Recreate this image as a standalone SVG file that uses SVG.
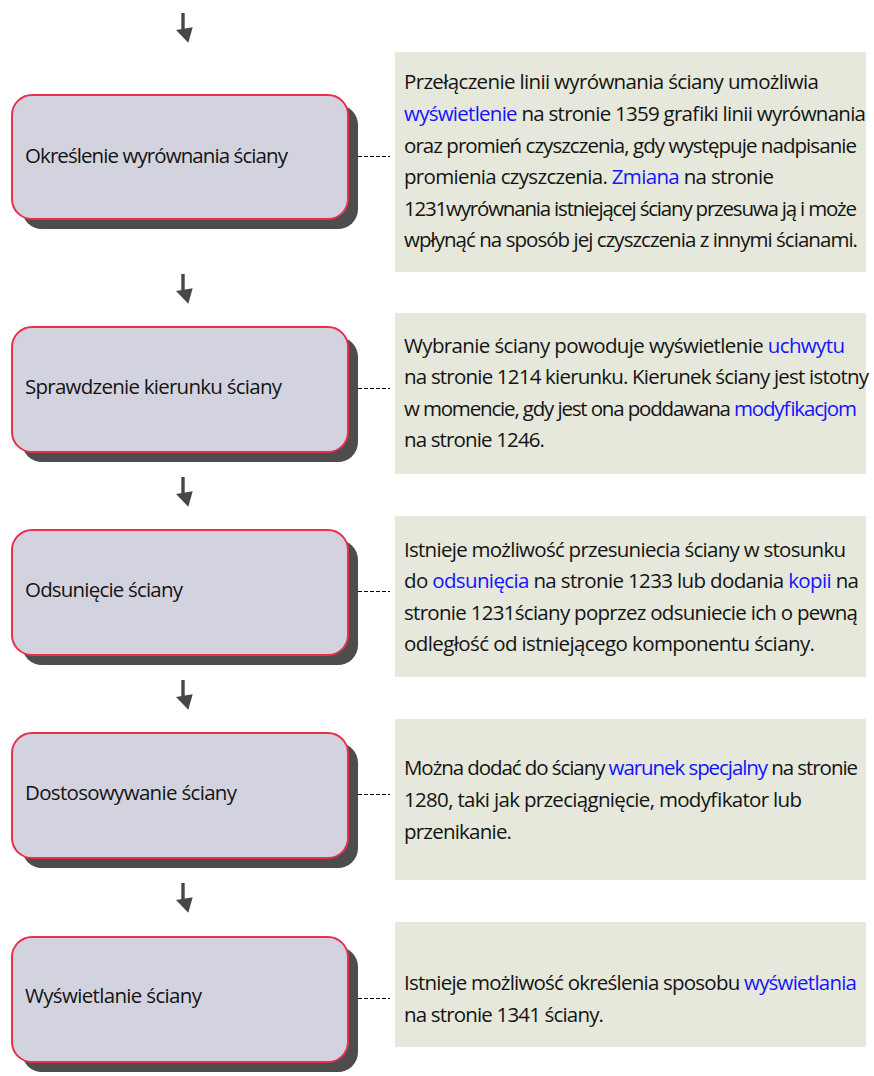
<svg xmlns="http://www.w3.org/2000/svg" xmlns:xlink="http://www.w3.org/1999/xlink" width="874" height="1076" viewBox="0 0 874 1076">
  <style>
    .shadow { fill: #4d4d4d; }
    .box { fill: #d3d3df; stroke: #e8304f; stroke-width: 2; }
    .panel { fill: #e5e8da; }
    .label { font-family: "Open Sans", "Noto Sans", sans-serif; font-size: 20.5px; fill: #141414; }
    .note { font-family: "Open Sans", "Noto Sans", sans-serif; font-size: 20.5px; fill: #141414; }
    .link { fill: #1414ff; }
    .dash { stroke: #000; stroke-width: 1.2; stroke-dasharray: 4 2; fill: none; }
    .arrow { fill: #474747; }
  </style>
  <defs>
    <g id="down-arrow" class="arrow">
      <rect x="-1.7" y="0" width="3.4" height="18"/>
      <polygon points="-7,17 9.7,14.3 5.3,29.7"/>
    </g>
  </defs>

  <!-- flow arrows and dashed leader lines -->
  <g id="connectors">
    <use xlink:href="#down-arrow" x="183" y="13"/>
    <use xlink:href="#down-arrow" x="183" y="274"/>
    <use xlink:href="#down-arrow" x="183" y="477"/>
    <use xlink:href="#down-arrow" x="183" y="680"/>
    <use xlink:href="#down-arrow" x="183" y="883"/>
    <line class="dash" x1="358" y1="156.5" x2="390" y2="156.5"/>
    <line class="dash" x1="358" y1="388.5" x2="390" y2="388.5"/>
    <line class="dash" x1="358" y1="591.5" x2="390" y2="591.5"/>
    <line class="dash" x1="358" y1="794.5" x2="390" y2="794.5"/>
    <line class="dash" x1="358" y1="998.5" x2="390" y2="998.5"/>
  </g>

  <!-- step 1 -->
  <g id="step-alignment">
    <rect class="shadow" x="22" y="105" width="336" height="124" rx="20"/>
    <rect class="box" x="12" y="95" width="336" height="124" rx="20"/>
    <text class="label" x="25" y="163" textLength="263">Określenie wyrównania ściany</text>
  </g>
  <g id="note-alignment">
    <rect class="panel" x="395" y="52" width="471" height="220"/>
    <text class="note" x="404" y="89" textLength="415">Przełączenie linii wyrównania ściany umożliwia</text>
    <text class="note" x="404" y="121" textLength="462"><tspan class="link">wyświetlenie</tspan> na stronie 1359 grafiki linii wyrównania</text>
    <text class="note" x="404" y="152.5" textLength="453">oraz promień czyszczenia, gdy występuje nadpisanie</text>
    <text class="note" x="404" y="184" textLength="370">promienia czyszczenia. <tspan class="link">Zmiana</tspan>  na stronie</text>
    <text class="note" x="404" y="216" textLength="453">1231wyrównania istniejącej ściany przesuwa ją i może</text>
    <text class="note" x="404" y="247" textLength="454">wpłynąć na sposób jej czyszczenia z innymi ścianami.</text>
  </g>

  <!-- step 2 -->
  <g id="step-direction">
    <rect class="shadow" x="22" y="337" width="336" height="125" rx="20"/>
    <rect class="box" x="12" y="327" width="336" height="125" rx="20"/>
    <text class="label" x="25" y="394" textLength="257">Sprawdzenie kierunku ściany</text>
  </g>
  <g id="note-direction">
    <rect class="panel" x="395" y="313" width="471" height="161"/>
    <text class="note" x="404" y="353" textLength="441">Wybranie ściany powoduje wyświetlenie <tspan class="link">uchwytu</tspan></text>
    <text class="note" x="404" y="384" textLength="465">na stronie 1214 kierunku. Kierunek ściany jest istotny</text>
    <text class="note" x="404" y="415.5" textLength="453">w momencie, gdy jest ona poddawana <tspan class="link">modyfikacjom</tspan></text>
    <text class="note" x="404" y="447" textLength="141">na stronie 1246.</text>
  </g>

  <!-- step 3 -->
  <g id="step-offset">
    <rect class="shadow" x="22" y="540" width="336" height="125" rx="20"/>
    <rect class="box" x="12" y="530" width="336" height="125" rx="20"/>
    <text class="label" x="25" y="597" textLength="158">Odsunięcie ściany</text>
  </g>
  <g id="note-offset">
    <rect class="panel" x="395" y="516" width="471" height="161"/>
    <text class="note" x="404" y="557" textLength="442">Istnieje możliwość przesuniecia ściany w stosunku</text>
    <text class="note" x="404" y="588" textLength="455">do <tspan class="link">odsunięcia</tspan> na stronie 1233 lub dodania <tspan class="link">kopii</tspan>  na</text>
    <text class="note" x="404" y="619.5" textLength="454">stronie 1231ściany poprzez odsuniecie ich o pewną</text>
    <text class="note" x="404" y="651" textLength="411">odległość od istniejącego komponentu ściany.</text>
  </g>

  <!-- step 4 -->
  <g id="step-modify">
    <rect class="shadow" x="22" y="743" width="336" height="125" rx="20"/>
    <rect class="box" x="12" y="733" width="336" height="125" rx="20"/>
    <text class="label" x="25" y="800" textLength="212">Dostosowywanie ściany</text>
  </g>
  <g id="note-modify">
    <rect class="panel" x="395" y="719" width="471" height="161"/>
    <text class="note" x="404" y="775" textLength="454">Można dodać do ściany <tspan class="link">warunek specjalny</tspan> na stronie</text>
    <text class="note" x="404" y="807" textLength="398">1280, taki jak przeciągnięcie, modyfikator lub</text>
    <text class="note" x="404" y="838.5" textLength="108">przenikanie.</text>
  </g>

  <!-- step 5 -->
  <g id="step-display">
    <rect class="shadow" x="22" y="947" width="336" height="125" rx="20"/>
    <rect class="box" x="12" y="937" width="336" height="125" rx="20"/>
    <text class="label" x="25" y="1003" textLength="177">Wyświetlanie ściany</text>
  </g>
  <g id="note-display">
    <rect class="panel" x="395" y="922" width="471" height="125"/>
    <text class="note" x="404" y="990" textLength="453">Istnieje możliwość określenia sposobu <tspan class="link">wyświetlania</tspan></text>
    <text class="note" x="404" y="1022" textLength="200">na stronie 1341 ściany.</text>
  </g>
</svg>
